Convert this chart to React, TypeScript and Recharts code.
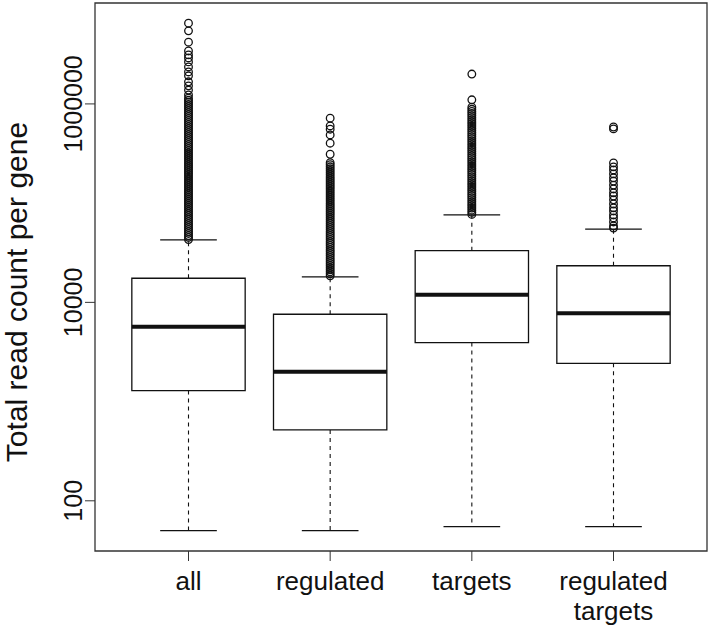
import {
  ComposedChart,
  Scatter,
  XAxis,
  YAxis,
  ReferenceArea,
  ReferenceLine,
} from "recharts";

const categories = ["all", "regulated", "targets", "regulated\ntargets"];

// box summaries
const lowWhisker = [50, 50, 55, 55];
const q1 = [1290, 518, 3930, 2430];
const median = [5690, 2000, 11900, 7760];
const q3 = [17500, 7590, 33200, 23400];
const highWhisker = [42600, 18100, 76000, 54600];

const allOutliers = [
  43000, 45100, 47200, 49500, 51800, 54300, 56900, 59700, 62500, 65500, 68700, 71900, 75400, 79000,
  82700, 86700, 90900, 95200, 99800, 104600, 109600, 114800, 120300, 126100, 132100, 138400, 145100,
  152000, 159300, 166900, 174900, 183300, 192100, 201300, 211000, 221100, 231700, 242800, 254500,
  266700, 279500, 292900, 307000, 321700, 337100, 353300, 370200, 388000, 406600, 426100, 446500,
  468000, 490400, 514000, 538600, 564500, 591600, 620000, 649700, 680900, 713500, 747800, 783600,
  821200, 860600, 901900, 945200, 990500, 1038000, 1088000, 1140000, 1230000, 1380000, 1520000,
  1670000, 1920000, 2100000, 2360000, 2650000, 2910000, 3120000, 3420000, 4190000, 5450000, 6510000,
];
const regulatedOutliers = [
  18500, 19400, 20300, 21300, 22300, 23400, 24500, 25700, 26900, 28200, 29600, 31000, 32500, 34000,
  35700, 37400, 39200, 41000, 43000, 45100, 47200, 49500, 51900, 54400, 57000, 59700, 62600, 65600,
  68700, 72000, 75500, 79100, 82900, 86900, 91000, 95400, 100000, 104800, 109800, 115100, 120600,
  126400, 132400, 138800, 145500, 152400, 159800, 167400, 175500, 183900, 192700, 202000, 211600,
  221800, 232400, 243600, 256000, 311000, 402000, 487000, 556000, 600000, 718000,
];
const targetsOutliers = [
  77000, 80800, 84900, 89100, 93600, 98300, 103200, 108300, 113700, 119400, 125400, 131700, 138300,
  145200, 152400, 160000, 168000, 176400, 185200, 194500, 204300, 214500, 225200, 236400, 248300,
  260700, 273700, 287400, 301800, 316900, 332700, 349300, 366800, 385200, 404400, 424600, 445800,
  468100, 491500, 516100, 541900, 569000, 597500, 627400, 658800, 691700, 726300, 762600, 800700,
  840800, 882800, 927000, 1100000, 2000000,
];
const regTargetsOutliers = [
  56000, 58900, 64600, 70900, 76000, 83400, 89600, 98000, 108000, 118000, 127000, 139000, 152000,
  167000, 180000, 197000, 216000, 232000, 254000, 560000, 585000,
];
const outliers = [allOutliers, regulatedOutliers, targetsOutliers, regTargetsOutliers];

const yTicks = [100, 10000, 1000000];
const xDomain: [number, number] = [0.34, 4.66];
const yDomain: [number, number] = [31.2, 10400000];

const FONT = "'Liberation Sans', Arial, Helvetica, sans-serif";
const INK = "#111";

const XTick = ({ x, y, payload }: any) => {
  const lines = categories[payload.value - 1].split("\n");
  return (
    <text x={x} y={y} textAnchor="middle" fontSize={26} fontFamily={FONT} fill={INK}>
      {lines.map((l, i) => (
        <tspan key={i} x={x} dy={i === 0 ? 27 : 30}>
          {l}
        </tspan>
      ))}
    </text>
  );
};

const YTick = ({ x, y, payload }: any) => (
  <text
    x={x - 1}
    y={y}
    transform={`rotate(-90, ${x - 1}, ${y})`}
    textAnchor="middle"
    fontSize={25}
    fontFamily={FONT}
    fill={INK}
  >
    {payload.value}
  </text>
);

const YLabel = () => (
  <text
    x={27}
    y={292}
    transform="rotate(-90, 27, 292)"
    textAnchor="middle"
    fontSize={30}
    fontFamily={FONT}
    fill={INK}
  >
    Total read count per gene
  </text>
);

const Circle = ({ cx, cy }: any) => (
  <circle cx={cx} cy={cy} r={3.8} fill="none" stroke={INK} strokeWidth={1.3} />
);

export default function App() {
  return (
    <div style={{ position: "absolute", left: 0, top: 0, background: "#fff" }}>
      <ComposedChart width={711} height={631} margin={{ top: 3, right: 4, left: 0, bottom: 0 }}>
        <XAxis
          type="number"
          dataKey="x"
          domain={xDomain}
          allowDataOverflow
          ticks={[1, 2, 3, 4]}
          tick={<XTick />}
          tickSize={10}
          tickLine={{ stroke: "#333" }}
          axisLine={false}
          height={80}
        />
        <YAxis
          type="number"
          dataKey="y"
          scale="log"
          domain={yDomain}
          allowDataOverflow
          ticks={yTicks}
          tick={<YTick />}
          tickSize={10}
          tickLine={{ stroke: "#333" }}
          axisLine={false}
          width={95}
          label={<YLabel />}
        />
        <ReferenceArea
          x1={xDomain[0]}
          x2={xDomain[1]}
          y1={yDomain[0]}
          y2={yDomain[1]}
          fill="none"
          fillOpacity={0}
          stroke="#333"
          strokeWidth={1.3}
          ifOverflow="visible"
        />
        {categories.map((_, i) => {
          const c = i + 1;
          return [
            <ReferenceLine
              key={`wu${i}`}
              segment={[{ x: c, y: q3[i] }, { x: c, y: highWhisker[i] }]}
              stroke={INK}
              strokeDasharray="4 4"
              strokeWidth={1.1}
              ifOverflow="visible"
            />,
            <ReferenceLine
              key={`wl${i}`}
              segment={[{ x: c, y: q1[i] }, { x: c, y: lowWhisker[i] }]}
              stroke={INK}
              strokeDasharray="4 4"
              strokeWidth={1.1}
              ifOverflow="visible"
            />,
            <ReferenceLine
              key={`cu${i}`}
              segment={[{ x: c - 0.2, y: highWhisker[i] }, { x: c + 0.2, y: highWhisker[i] }]}
              stroke={INK}
              strokeWidth={1.2}
              ifOverflow="visible"
            />,
            <ReferenceLine
              key={`cl${i}`}
              segment={[{ x: c - 0.2, y: lowWhisker[i] }, { x: c + 0.2, y: lowWhisker[i] }]}
              stroke={INK}
              strokeWidth={1.2}
              ifOverflow="visible"
            />,
            <ReferenceArea
              key={`b${i}`}
              x1={c - 0.4}
              x2={c + 0.4}
              y1={q1[i]}
              y2={q3[i]}
              fill="#fff"
              fillOpacity={1}
              stroke={INK}
              strokeWidth={1.3}
              ifOverflow="visible"
            />,
            <ReferenceLine
              key={`m${i}`}
              segment={[{ x: c - 0.4, y: median[i] }, { x: c + 0.4, y: median[i] }]}
              stroke={INK}
              strokeWidth={4}
              ifOverflow="visible"
            />,
          ];
        })}
        {outliers.map((vals, i) => (
          <Scatter
            key={`o${i}`}
            data={vals.map((v) => ({ x: i + 1, y: v }))}
            shape={<Circle />}
            isAnimationActive={false}
          />
        ))}
      </ComposedChart>
    </div>
  );
}
